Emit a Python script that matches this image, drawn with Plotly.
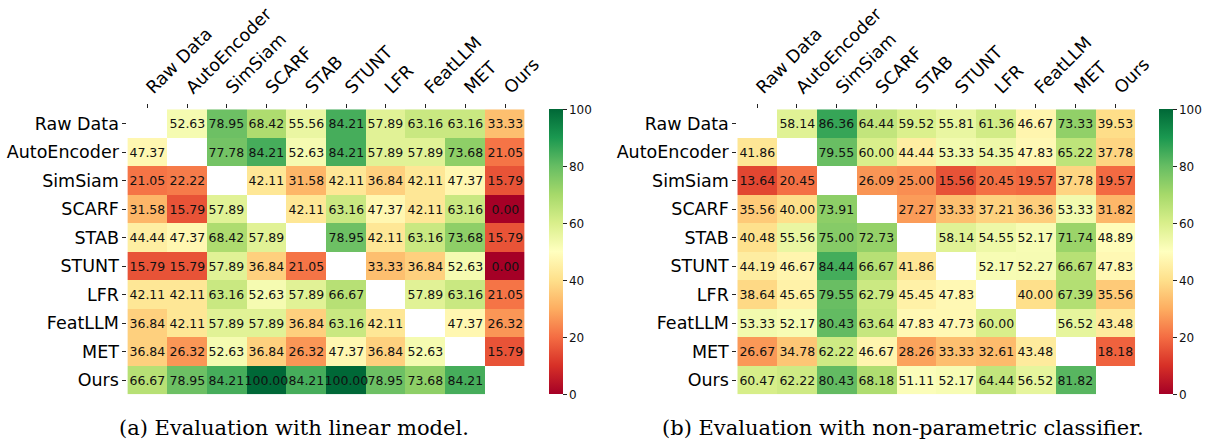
import plotly.graph_objects as go

methods = ["Raw Data", "AutoEncoder", "SimSiam", "SCARF", "STAB", "STUNT",
           "LFR", "FeatLLM", "MET", "Ours"]

linear_model_scores = [
    [None, 52.63, 78.95, 68.42, 55.56, 84.21, 57.89, 63.16, 63.16, 33.33],
    [47.37, None, 77.78, 84.21, 52.63, 84.21, 57.89, 57.89, 73.68, 21.05],
    [21.05, 22.22, None, 42.11, 31.58, 42.11, 36.84, 42.11, 47.37, 15.79],
    [31.58, 15.79, 57.89, None, 42.11, 63.16, 47.37, 42.11, 63.16, 0.00],
    [44.44, 47.37, 68.42, 57.89, None, 78.95, 42.11, 63.16, 73.68, 15.79],
    [15.79, 15.79, 57.89, 36.84, 21.05, None, 33.33, 36.84, 52.63, 0.00],
    [42.11, 42.11, 63.16, 52.63, 57.89, 66.67, None, 57.89, 63.16, 21.05],
    [36.84, 42.11, 57.89, 57.89, 36.84, 63.16, 42.11, None, 47.37, 26.32],
    [36.84, 26.32, 52.63, 36.84, 26.32, 47.37, 36.84, 52.63, None, 15.79],
    [66.67, 78.95, 84.21, 100.00, 84.21, 100.00, 78.95, 73.68, 84.21, None],
]

nonparametric_scores = [
    [None, 58.14, 86.36, 64.44, 59.52, 55.81, 61.36, 46.67, 73.33, 39.53],
    [41.86, None, 79.55, 60.00, 44.44, 53.33, 54.35, 47.83, 65.22, 37.78],
    [13.64, 20.45, None, 26.09, 25.00, 15.56, 20.45, 19.57, 37.78, 19.57],
    [35.56, 40.00, 73.91, None, 27.27, 33.33, 37.21, 36.36, 53.33, 31.82],
    [40.48, 55.56, 75.00, 72.73, None, 58.14, 54.55, 52.17, 71.74, 48.89],
    [44.19, 46.67, 84.44, 66.67, 41.86, None, 52.17, 52.27, 66.67, 47.83],
    [38.64, 45.65, 79.55, 62.79, 45.45, 47.83, None, 40.00, 67.39, 35.56],
    [53.33, 52.17, 80.43, 63.64, 47.83, 47.73, 60.00, None, 56.52, 43.48],
    [26.67, 34.78, 62.22, 46.67, 28.26, 33.33, 32.61, 43.48, None, 18.18],
    [60.47, 62.22, 80.43, 68.18, 51.11, 52.17, 64.44, 56.52, 81.82, None],
]

captions = ["(a) Evaluation with linear model.",
            "(b) Evaluation with non-parametric classifier."]

colorbar_ticks = [0, 20, 40, 60, 80, 100]

rdylgn = ['#a50026', '#d73027', '#f46d43', '#fdae61', '#fee08b', '#ffffbf',
          '#d9ef8b', '#a6d96a', '#66bd63', '#1a9850', '#006837']
colorscale = [[i / (len(rdylgn) - 1), c] for i, c in enumerate(rdylgn)]

W, H = 1226, 441
top_px, bot_px = 109.3, 394.3
ydom = [1 - bot_px / H, 1 - top_px / H]
panels = [
    dict(z=linear_model_scores, x0=129.3, x1=532.7, cb=557.3, cap_x=298.5),
    dict(z=nonparametric_scores, x0=748.3, x1=1152.0, cb=1176.0, cap_x=916.5),
]

fig = go.Figure()
font_family = "DejaVu Sans"

for i, p in enumerate(panels):
    n = i + 1
    sfx = str(n) if n > 1 else ""
    text = [["" if v is None else f"{v:.2f}" for v in row] for row in p["z"]]
    fig.add_trace(go.Heatmap(
        z=p["z"], x=methods, y=methods, text=text, texttemplate="%{text}",
        textfont=dict(family=font_family, size=12.5, color="#111111"),
        colorscale=colorscale, zmin=0, zmax=100, hoverinfo="skip",
        xaxis="x" + sfx, yaxis="y" + sfx,
        colorbar=dict(
            x=p["cb"] / W, xanchor="left", xpad=0, ypad=0,
            y=(ydom[0] + ydom[1]) / 2, yanchor="middle",
            len=bot_px - top_px, lenmode="pixels", thickness=14.4,
            thicknessmode="pixels", outlinewidth=0,
            tickvals=colorbar_ticks, ticks="outside", ticklen=4,
            tickcolor="#222222",
            tickfont=dict(family=font_family, size=12, color="#111111"),
        ),
    ))
    axis_common = dict(showgrid=False, zeroline=False, showline=False,
                       ticks="outside", ticklen=4, tickcolor="#222222",
                       tickfont=dict(family=font_family, size=17.5, color="#000000"))
    fig.layout["xaxis" + sfx] = dict(
        domain=[p["x0"] / W, p["x1"] / W], side="top",
        tickangle=-45, anchor="y" + sfx, **axis_common)
    fig.layout["yaxis" + sfx] = dict(
        domain=ydom, autorange="reversed", anchor="x" + sfx, **axis_common)
    fig.add_annotation(text=captions[i], x=p["cap_x"] / W,
                       y=1 - 428 / H,
                       xref="paper", yref="paper", showarrow=False,
                       xanchor="center", yanchor="middle",
                       font=dict(family="DejaVu Serif", size=21, color="#000000"))

fig.update_layout(width=W, height=H, margin=dict(l=0, r=0, t=0, b=0),
                  paper_bgcolor="white", plot_bgcolor="white", showlegend=False)

fig.write_html(
    "out.html",
    config={"displayModeBar": False},
    post_script="document.body.style.margin='0';document.body.style.overflow='hidden';",
)
